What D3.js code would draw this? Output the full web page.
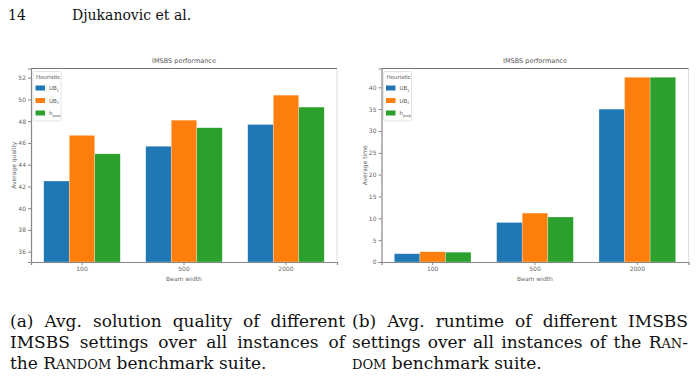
<!DOCTYPE html>
<html>
<head>
<meta charset="utf-8">
<script src="https://cdn.jsdelivr.net/npm/d3@7"></script>
<style>
  body { margin: 0; background: #fff; }
  svg { display: block; }
</style>
</head>
<body>
<div id="app"></div>
<script>
const beamWidths = ["100", "500", "2000"];
const heuristics = ["UB1", "UB2", "hprob"];
const colors = ["#1f77b4", "#ff7f0e", "#2ca02c"];

// avg quality per heuristic for each beam width
const qualityUB1 = [42.5, 45.7, 47.7];
const qualityUB2 = [46.7, 48.1, 50.4];
const qualityHprob = [45.0, 47.4, 49.3];
const qualityTicks = [36, 38, 40, 42, 44, 46, 48, 50, 52];

// avg runtime
const timeUB1 = [1.9, 9.05, 35.0];
const timeUB2 = [2.35, 11.2, 42.3];
const timeHprob = [2.25, 10.3, 42.3];
const timeTicks = [0, 5, 10, 15, 20, 25, 30, 35, 40];

const W = 698, H = 381;
const serif = "DejaVu Serif, serif";

const svg = d3.select("#app")
  .append("svg")
  .attr("width", W)
  .attr("height", H);

// page header
svg.append("text")
  .attr("x", 8).attr("y", 20)
  .style("font-family", serif)
  .style("font-size", "14px")
  .style("fill", "#111")
  .text("14");
svg.append("text")
  .attr("x", 72).attr("y", 20)
  .style("font-family", serif)
  .style("font-size", "14px")
  .style("fill", "#111")
  .text("Djukanovic et al.");

function drawPanel(left, right, series, domain, ticks, yLabel) {
  const top = 68.5, bottom = 262;
  const g = svg.append("g");

  const x = d3.scaleBand()
    .domain(beamWidths)
    .range([left, right])
    .paddingInner(0.25)
    .paddingOuter(0.125);

  const sub = d3.scaleBand()
    .domain(heuristics)
    .range([0, x.bandwidth()]);

  const y = d3.scaleLinear()
    .domain(domain)
    .range([bottom, top]);

  // bars
  series.forEach((vals, si) => {
    g.append("g")
      .selectAll("rect")
      .data(vals)
      .join("rect")
      .attr("x", (d, i) => x(beamWidths[i]) + sub(heuristics[si]))
      .attr("y", d => y(d))
      .attr("width", sub.bandwidth())
      .attr("height", d => bottom - y(d))
      .style("fill", colors[si])
      .style("stroke", "rgba(255,255,255,0.45)")
      .style("stroke-width", 0.6);
  });

  // spines
  g.append("line").attr("x1", right).attr("x2", right).attr("y1", top).attr("y2", bottom)
    .style("stroke", "#ddd").style("stroke-width", 1);
  g.append("line").attr("x1", left).attr("x2", right).attr("y1", top).attr("y2", top)
    .style("stroke", "#777").style("stroke-width", 1);

  const yAxis = g.append("g")
    .attr("transform", `translate(${left},0)`)
    .call(d3.axisLeft(y).tickValues(ticks).tickSize(3).tickPadding(2));
  const xAxis = g.append("g")
    .attr("transform", `translate(0,${bottom})`)
    .call(d3.axisBottom(x).tickSize(3).tickPadding(2));

  [yAxis, xAxis].forEach(a => {
    a.select(".domain").style("stroke", "#888").attr("stroke-width", 1.2);
    a.selectAll(".tick line").style("stroke", "#888");
    a.selectAll(".tick text")
      .style("font-family", "DejaVu Sans, sans-serif")
      .style("font-size", "6px")
      .style("fill", "#666");
  });

  // title
  g.append("text")
    .attr("x", (left + right) / 2).attr("y", 63)
    .attr("text-anchor", "middle")
    .style("font-family", "DejaVu Sans, sans-serif")
    .style("font-size", "6.5px")
    .style("fill", "#555")
    .text("IMSBS performance");

  // axis labels
  g.append("text")
    .attr("x", (left + right) / 2).attr("y", 281)
    .attr("text-anchor", "middle")
    .style("font-family", "DejaVu Sans, sans-serif")
    .style("font-size", "6px")
    .style("fill", "#666")
    .text("Beam width");

  g.append("text")
    .attr("transform", `translate(${left - 15},${(top + bottom) / 2}) rotate(-90)`)
    .attr("text-anchor", "middle")
    .style("font-family", "DejaVu Sans, sans-serif")
    .style("font-size", "6px")
    .style("fill", "#666")
    .text(yLabel);

  // legend
  const lg = g.append("g").attr("transform", `translate(${left + 2},${top + 3})`);
  lg.append("rect")
    .attr("width", 28).attr("height", 49.5)
    .attr("rx", 1.5)
    .style("fill", "#fff")
    .style("stroke", "#ddd")
    .style("stroke-width", 0.8);
  lg.append("text")
    .attr("x", 3).attr("y", 7)
    .style("font-family", "DejaVu Sans, sans-serif")
    .style("font-size", "5.5px")
    .style("fill", "#555")
    .text("Heuristic");
  const labels = [["UB", "1"], ["UB", "2"], ["h", "prob"]];
  heuristics.forEach((h, i) => {
    const cy = 16.5 + i * 12.5;
    lg.append("rect")
      .attr("x", 2.5).attr("y", cy - 2.5)
      .attr("width", 9.5).attr("height", 5)
      .style("fill", colors[i]);
    const t = lg.append("text")
      .attr("x", 16).attr("y", cy + 2)
      .style("font-family", "DejaVu Sans, sans-serif")
      .style("font-size", "5.5px")
      .style("fill", "#555");
    t.append("tspan").text(labels[i][0]);
    t.append("tspan")
      .attr("dy", 1.5)
      .style("font-size", "3.5px")
      .text(labels[i][1]);
  });
}

drawPanel(31, 337, [qualityUB1, qualityUB2, qualityHprob], [35.05, 52.85], qualityTicks, "Average quality");
drawPanel(381.5, 688.5, [timeUB1, timeUB2, timeHprob], [0, 44.3], timeTicks, "Average time");

// captions, justified by widening word spaces
function capLine(x, y, parts, width) {
  const t = svg.append("text")
    .attr("x", x).attr("y", y)
    .style("font-family", serif)
    .style("font-size", "17px")
    .style("fill", "#111");
  parts.forEach(p => {
    t.append("tspan")
      .style("font-size", p[1] ? "13px" : null)
      .text(p[0]);
  });
  if (width) {
    const natural = t.node().getComputedTextLength();
    const spaces = parts.map(p => p[0]).join("").split(" ").length - 1;
    if (spaces > 0) t.style("word-spacing", ((width - natural) / spaces) + "px");
  }
}

capLine(10, 327, [["(a) Avg. solution quality of different"]], 335);
capLine(10, 348, [["IMSBS settings over all instances of"]], 335);
capLine(10, 369, [["the R"], ["ANDOM", 1], [" benchmark suite."]]);

capLine(352, 327, [["(b) Avg. runtime of different IMSBS"]], 336);
capLine(352, 348, [["settings over all instances of the R"], ["AN", 1], ["-"]], 336);
capLine(352, 369, [["DOM", 1], [" benchmark suite."]]);
</script>
</body>
</html>
